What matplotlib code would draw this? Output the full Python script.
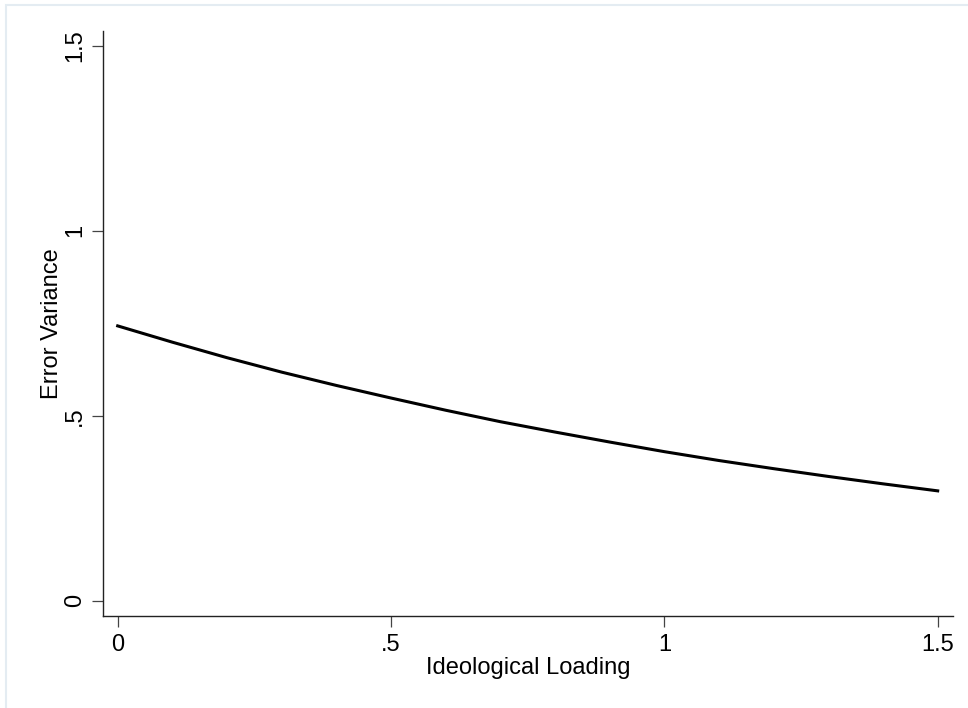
import matplotlib
matplotlib.use("Agg")
import matplotlib.pyplot as plt
from matplotlib.patches import Rectangle

plt.rcParams['font.family'] = ['Liberation Sans', 'DejaVu Sans']

# curve
loading = [0.0, 0.1, 0.2, 0.3, 0.4, 0.5, 0.6, 0.7, 0.8, 0.9,
           1.0, 1.1, 1.2, 1.3, 1.4, 1.5]
err_var = [0.743, 0.699, 0.657, 0.618, 0.582, 0.548, 0.515, 0.484, 0.456, 0.429,
           0.403, 0.379, 0.357, 0.336, 0.316, 0.297]

xticks = [0, 0.5, 1, 1.5]
xticklabels = ['0', '.5', '1', '1.5']
yticks = [0, 0.5, 1, 1.5]
yticklabels = ['0', '.5', '1', '1.5']

fig = plt.figure(figsize=(9.68, 7.08), dpi=100)
fig.patch.set_facecolor('white')

# faint outer frame like the stata graph region
fig.patches.append(Rectangle((6 / 968, -0.05), 1.2, 1 - 5 / 708 + 0.05,
                             transform=fig.transFigure, fill=False,
                             edgecolor='#e4ecf2', linewidth=1.5))

ax = fig.add_axes([0.1061, 0.1299, 0.8784, 0.8267])
ax.plot(loading, err_var, color='black', linewidth=2.2)

ax.set_xlim(-0.0274, 1.528)
ax.set_ylim(-0.0414, 1.541)

for side in ('top', 'right'):
    ax.spines[side].set_visible(False)
for side in ('left', 'bottom'):
    ax.spines[side].set_linewidth(1.0)
    ax.spines[side].set_color('#222222')

ax.set_xticks(xticks)
ax.set_xticklabels(xticklabels)
ax.set_yticks(yticks)
ax.set_yticklabels(yticklabels, rotation=90, va='center')
ax.tick_params(axis='both', length=8, width=0.9, color='#444444',
               labelsize=17, pad=5)
ax.tick_params(axis='y', pad=4)

ax.set_xlabel('Ideological Loading', fontsize=17, labelpad=1)
ax.set_ylabel('Error Variance', fontsize=17, labelpad=1)

fig.savefig('out.png', dpi=100, facecolor='white')
